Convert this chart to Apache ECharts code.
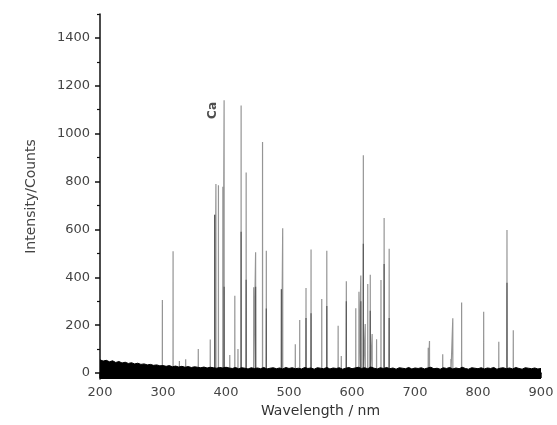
<!DOCTYPE html>
<html>
<head>
<meta charset="utf-8">
<script src="https://cdn.jsdelivr.net/npm/echarts@6/dist/echarts.min.js"></script>
<style>html,body{margin:0;padding:0;background:#fff}#c{width:557px;height:425px}</style>
</head>
<body>
<div id="c"></div>
<script>
// Emission lines: [wavelength nm, intensity counts]
var peaks = [
  [299,305],[316,509],[326,50],[336,58],[356,100],[375,140],[382,662],[384,790],
  [388,785],[395,778],[397,1140],[406,75],[414,323],[419,100],[424,1118],[432,838],
  [444,358],[447,505],[458,965],[464,511],[488,350],[490,605],[510,120],[517,221],
  [527,355],[535,516],[552,309],[560,511],[578,197],[583,71],[591,383],[606,271],
  [611,340],[614,407],[618,910],[621,205],[625,372],[629,411],[632,163],[639,141],
  [646,389],[651,648],[659,519],[721,106],[723,134],[744,78],[757,59],[760,229],
  [774,295],[809,256],[833,131],[846,598],[856,179]
];
// darker overlapping cores of some lines
var cores = [
  [382,660],[397,360],[424,590],[432,390],[447,360],[464,270],[488,350],[527,230],
  [535,250],[560,280],[591,300],[614,300],[618,540],[629,260],[651,455],[659,230],[846,377]
];
// upper edge of the baseline noise band, read every 5 nm from 200 to 900
var noiseStart = 200, noiseStep = 5;
var noiseTop = [
  55,50,53,47,51,44,48,42,45,40,43,38,41,36,38,34,36,32,34,30,31,
  28,31,26,29,25,28,24,27,23,26,24,22,25,21,24,22,20,23,21,24,
  21,19,23,18,22,20,17,22,19,21,18,23,17,20,22,18,21,17,23,19,
  22,18,20,17,23,19,21,16,22,20,18,23,17,21,19,22,16,20,23,18,
  21,24,19,22,18,25,20,17,22,19,23,18,21,16,22,20,18,23,17,21,
  19,22,17,21,24,18,20,16,22,19,23,17,21,18,24,19,16,22,20,18,
  22,17,21,19,23,16,20,22,18,21,17,23,19,16,22,20,18,21,17,19
];
var xTicks = [200,300,400,500,600,700,800,900];
var yTickLabels = [0,200,400,600,800,1000,1200,1400];
var yMinorTicks = [100,300,500,700,900,1100,1300,1500];
var caLabel = [378.6, 1097, 'Ca'];

function spikes(list){
  var s = list.slice().sort(function(a,b){return a[0]-b[0];});
  var out = [[200,0]];
  s.forEach(function(p){ out.push([p[0]-0.12,0],[p[0],p[1]],[p[0]+0.12,0]); });
  out.push([900,0]);
  return out;
}
var noiseData = noiseTop.map(function(v,i){return [noiseStart + i*noiseStep, v];});

var font = 'DejaVu Sans, sans-serif';
var chart = echarts.init(document.getElementById('c'), null, {renderer:'canvas'});
chart.setOption({
  animation:false,
  backgroundColor:'#fff',
  grid:{left:100,right:16,top:14,bottom:46,containLabel:false},
  xAxis:{
    type:'value', min:xTicks[0], max:xTicks[xTicks.length-1], interval:100,
    name:'Wavelength / nm', nameLocation:'middle', nameGap:24,
    nameTextStyle:{fontFamily:font,fontSize:14,color:'#333'},
    axisLine:{lineStyle:{color:'#111',width:1.5}},
    axisTick:{length:5,lineStyle:{color:'#111',width:1.5}},
    minorTick:{show:true,splitNumber:2,length:3,lineStyle:{color:'#111',width:1.2}},
    axisLabel:{fontFamily:font,fontSize:13,color:'#444',margin:7,formatter:function(v){return String(v);}},
    splitLine:{show:false}
  },
  yAxis:[{
    type:'value', min:-25, max:1500,
    name:'Intensity/Counts', nameLocation:'middle', nameGap:62,
    nameTextStyle:{fontFamily:font,fontSize:14,color:'#444'},
    axisLine:{show:true,lineStyle:{color:'#111',width:1.5}},
    axisTick:{show:true,length:5,customValues:yTickLabels,lineStyle:{color:'#111',width:1.5}},
    axisLabel:{fontFamily:font,fontSize:13,color:'#444',margin:10,customValues:yTickLabels,
      formatter:function(v){return String(v);}},
    splitLine:{show:false}
  },{
    type:'value', min:-25, max:1500, position:'left',
    axisLine:{show:false},
    axisTick:{show:true,length:3,customValues:yMinorTicks,lineStyle:{color:'#111',width:1.2}},
    axisLabel:{show:false,customValues:yMinorTicks},
    splitLine:{show:false}
  }],
  series:[
    {type:'line',data:spikes(peaks),symbol:'none',lineStyle:{color:'#959595',width:1.2},z:2},
    {type:'line',data:spikes(cores),symbol:'none',lineStyle:{color:'#5a5a5a',width:1.2},z:3},
    {type:'line',data:noiseData,symbol:'none',lineStyle:{color:'#000',width:1},
      areaStyle:{color:'#000',opacity:1,origin:'start'},z:4},
    {type:'scatter',data:[[caLabel[0],caLabel[1]]],symbolSize:0,z:5,
      label:{show:true,formatter:caLabel[2],rotate:90,position:'inside',
        fontFamily:font,fontSize:12,fontWeight:'bold',color:'#222'}}
  ]
});
</script>
</body>
</html>
